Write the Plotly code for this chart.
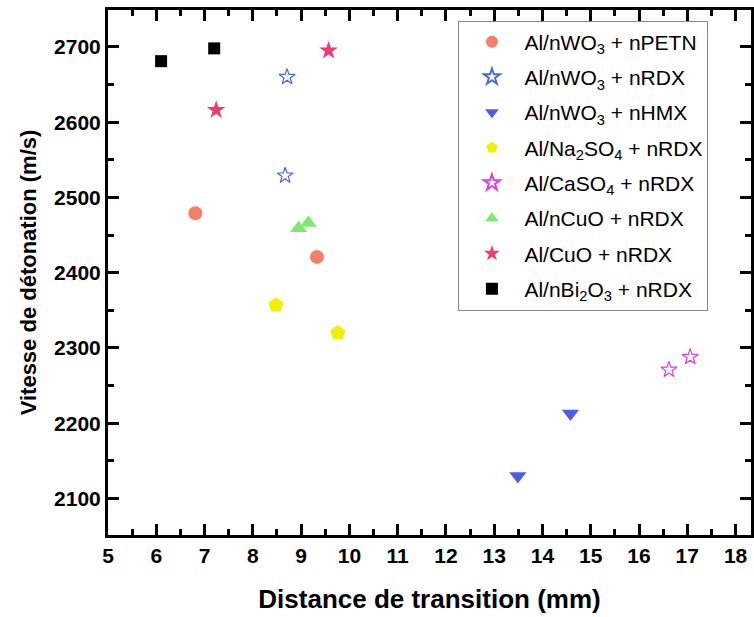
import plotly.graph_objects as go

# Data (x: Distance de transition (mm), y: Vitesse de détonation (m/s))
names = [
    "Al/nWO<sub>3</sub> + nPETN",
    "Al/nWO<sub>3</sub> + nRDX",
    "Al/nWO<sub>3</sub> + nHMX",
    "Al/Na<sub>2</sub>SO<sub>4</sub> + nRDX",
    "Al/CaSO<sub>4</sub> + nRDX",
    "Al/nCuO + nRDX",
    "Al/CuO + nRDX",
    "Al/nBi<sub>2</sub>O<sub>3</sub> + nRDX",
]
x_petn = [6.81, 9.33]
y_petn = [2479, 2421]
x_wo3_rdx = [8.71, 8.67]
y_wo3_rdx = [2660, 2529]
x_hmx = [13.49, 14.58]
y_hmx = [2130, 2213]
x_na2so4 = [8.48, 9.76]
y_na2so4 = [2357, 2320]
x_caso4 = [16.62, 17.06]
y_caso4 = [2271, 2288]
x_ncuo = [8.95, 9.15]
y_ncuo = [2459, 2466]
x_cuo = [7.24, 9.57]
y_cuo = [2616, 2695]
x_bi2o3 = [6.1, 7.2]
y_bi2o3 = [2681, 2698]

xs = [x_petn, x_wo3_rdx, x_hmx, x_na2so4, x_caso4, x_ncuo, x_cuo, x_bi2o3]
ys = [y_petn, y_wo3_rdx, y_hmx, y_na2so4, y_caso4, y_ncuo, y_cuo, y_bi2o3]
symbols = ["circle", "star-open", "triangle-down", "pentagon", "star-open",
           "triangle-up", "star", "square"]
colors = ["#F4806A", "#4A6AD8", "#4F5CE8", "#F2EE0C", "#E03CE0",
          "#7EEA70", "#EE3D6D", "#000000"]
sizes = [14, 12, 15, 16, 12, 15, 14, 12]

FONT = "Liberation Sans, Arial"

fig = go.Figure()
for i, (n, x, y, s, c, sz) in enumerate(zip(names, xs, ys, symbols, colors, sizes)):
    fig.add_trace(go.Scatter(
        x=x, y=y, mode="markers", name=n, legendgroup=f"g{i}",
        marker=dict(symbol=s, color=c, size=sz,
                    line=dict(width=1.2 if "open" in s else 0, color=c)),
    ))

axis_common = dict(
    showline=True, linecolor="black", linewidth=3, mirror="ticks",
    ticks="inside", ticklen=11, tickwidth=3, tickcolor="black",
    showgrid=False, zeroline=False,
    tickfont=dict(family=FONT, size=21, color="black", weight="bold"),
)

fig.update_xaxes(
    range=[5, 18.32], dtick=1, tick0=5,
    minor=dict(ticks="inside", ticklen=6, tickwidth=2.5, dtick=0.5, tick0=5, tickcolor="black"),
    title=dict(text="Distance de transition (mm)", standoff=24,
               font=dict(family=FONT, size=26, color="black", weight="bold")),
    **axis_common,
)
fig.update_yaxes(
    range=[2051.5, 2749], dtick=100, tick0=2100,
    minor=dict(ticks="inside", ticklen=6, tickwidth=2.5, dtick=50, tick0=2050, tickcolor="black"),
    title=dict(text="Vitesse de détonation (m/s)", standoff=12,
               font=dict(family=FONT, size=22, color="black", weight="bold")),
    **axis_common,
)

fig.update_layout(
    width=754, height=617,
    margin=dict(l=108, r=0, t=10, b=82),
    paper_bgcolor="white", plot_bgcolor="white",
    showlegend=True,
    legend=dict(
        x=0.545, y=0.98, xanchor="left", yanchor="top",
        bgcolor="white", bordercolor="#888888", borderwidth=1,
        font=dict(family=FONT, size=21, color="black"),
        itemsizing="constant", tracegroupgap=5, itemwidth=55,
    ),
)

fig.write_html("out.html", config={"displayModeBar": False},
               post_script="document.body.style.margin='0';")
